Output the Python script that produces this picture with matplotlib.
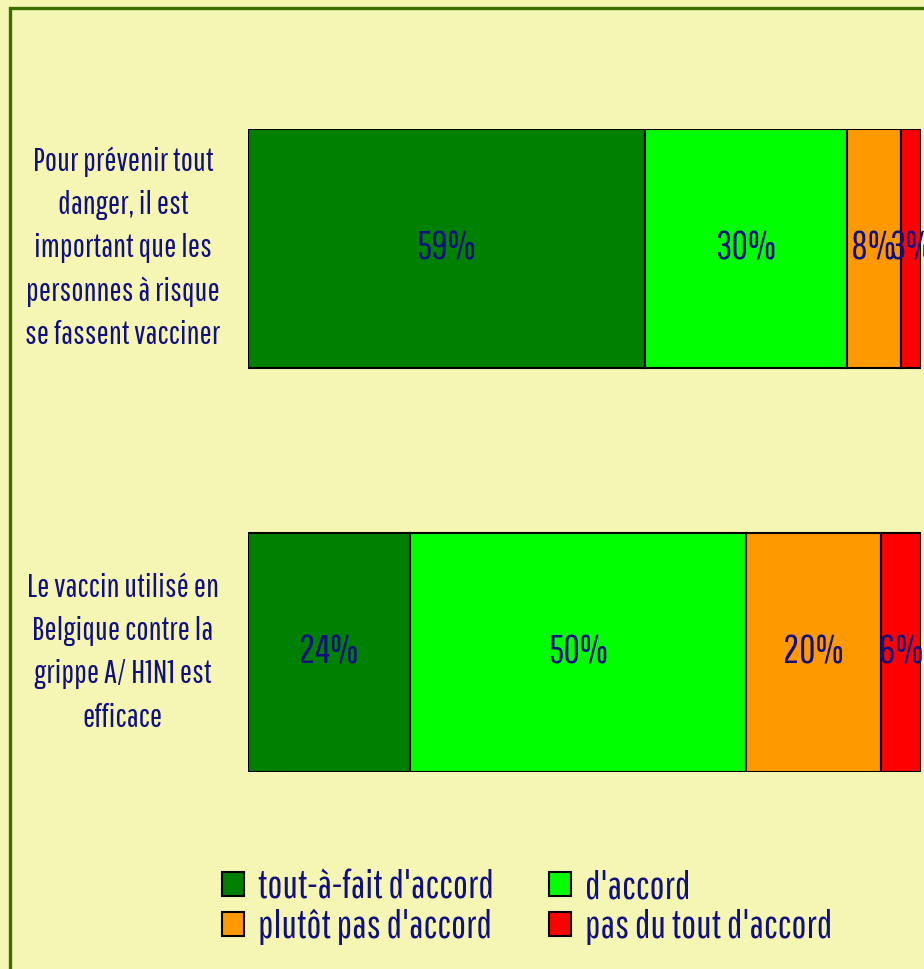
import matplotlib
matplotlib.use('Agg')
import matplotlib.pyplot as plt
from matplotlib.patches import Rectangle, Patch
import numpy as np

# data
questions = ["Pour prévenir tout\ndanger, il est\nimportant que les\npersonnes à risque\nse fassent vacciner",
             "Le vaccin utilisé en\nBelgique contre la\ngrippe A/ H1N1 est\nefficace"]
categories = ["tout-à-fait d'accord", "d'accord", "plutôt pas d'accord", "pas du tout d'accord"]
tout_a_fait = [59, 24]
daccord = [30, 50]
plutot_pas = [8, 20]
pas_du_tout = [3, 6]

colors = ['#008000', '#00ff00', '#ff9900', '#ff0000']
bg = '#f6f6b4'
txt = '#10107f'
# narrow fonts, fallback to DejaVu
plt.rcParams['font.family'] = ['Pathway Gothic One', 'Saira ExtraCondensed', 'Liberation Sans Narrow', 'DejaVu Sans']

fig = plt.figure(figsize=(9.24, 9.69), dpi=100, facecolor=bg)
W, H = 924, 969

# outer frame (runs off right/bottom edge)
fig.patches.append(Rectangle((10 / W, -0.05), 1.2, 1 - 8 / H + 0.05, transform=fig.transFigure,
                             fill=False, edgecolor='#3c6e00', linewidth=2.4))

ax = fig.add_axes([248 / W, 1 - 772 / H, (921 - 248) / W, (772 - 129) / H])
ax.set_facecolor('none')
ax.axis('off')

series = [tout_a_fait, daccord, plutot_pas, pas_du_tout]
ypos = np.arange(len(questions))
left = np.zeros(len(questions))
for vals, c in zip(series, colors):
    vals = np.array(vals, dtype=float)
    ax.barh(ypos, vals, left=left, height=0.59, color=c, edgecolor='black', linewidth=1.5)
    for y, l, v in zip(ypos, left, vals):
        ax.text(l + v / 2, y, f"{int(v)}%", ha='center', va='center', color=txt, fontsize=29)
    left += vals

ax.set_xlim(0, 100)
ax.set_ylim(1.295, -0.295)

for y, q in zip(ypos, questions):
    ax.text(-0.186, y, q, transform=ax.get_yaxis_transform(), ha='center', va='center',
            multialignment='center', color=txt, fontsize=23.5, linespacing=1.55)

handles = [Patch(facecolor=c, edgecolor='black', linewidth=1.5) for c in colors]
order = [0, 2, 1, 3]
leg = fig.legend([handles[i] for i in order], [categories[i] for i in order], ncol=2,
                 loc='center left', bbox_to_anchor=(222 / W, 1 - 907 / H), frameon=False,
                 borderpad=0, borderaxespad=0,
                 fontsize=28.5, labelcolor=txt, handlelength=0.55, handleheight=0.55,
                 handletextpad=0.35, columnspacing=1.4, labelspacing=0.08)

fig.savefig('out.png', dpi=100, facecolor=bg)
